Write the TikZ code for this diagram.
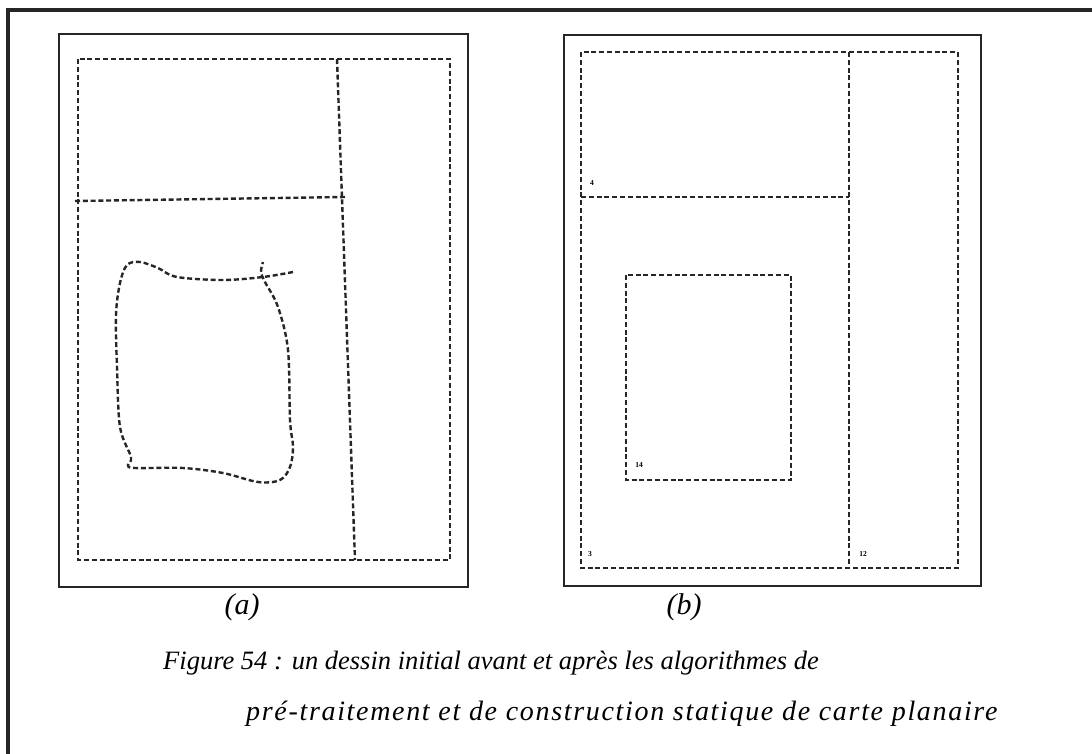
\documentclass[tikz,border=0pt]{standalone}
\usepackage{fontspec}
\setmainfont{Liberation Serif}
\begin{document}
\begin{tikzpicture}[x=1pt,y=-1pt,
  frameline/.style={line width=3.2pt, black!85},
  panelframe/.style={line width=2.8pt, black!85},
  dashline/.style={line width=2.4pt, dash pattern=on 5pt off 2.8pt, black!85},
  tinylabel/.style={font=\fontsize{7.5}{8}\selectfont\bfseries, inner sep=0pt},
  sublabel/.style={font=\fontsize{30}{34}\selectfont\itshape, inner sep=0pt, anchor=base},
  caption/.style={font=\fontsize{26.5}{32}\selectfont\itshape, inner sep=0pt, anchor=base west}]
\useasboundingbox (0,0) rectangle (1092,753);
\fill[white] (0,0) rectangle (1092,753);
% outer frame (cut by the page)
\draw[frameline] (8,770) -- (8,10) -- (1110,10);
% ---------- panel (a)
\draw[panelframe] (59,34) rectangle (468,587);
\draw[dashline] (78,59) rectangle (450,560);
\coordinate (aT) at (337,59);
\coordinate (aB) at (355,560);
\draw[dashline] (aT) -- (aB);
\coordinate (aL) at (75,201);
\coordinate (aR) at (345,197);
\draw[dashline] (aL) -- (aR);
\draw[dashline] plot[smooth, tension=0.55] coordinates {
 (293,272) (263,277) (223,280) (177,277) (158,268) (140,262) (127,265)
 (120,283) (116,315) (117,367) (120,427) (131,457) (128,465) (135,468)
 (183,468) (223,473) (258,482) (280,480) (290,467) (293,447) (290,420)
 (288,350) (278,307) (265,282) (261,272) (263,262)};
\node[sublabel] (la) at (242,614) {(a)};
% ---------- panel (b)
\draw[panelframe] (564,35) rectangle (981,586);
\draw[dashline] (581,52) rectangle (958,568);
\coordinate (bT) at (849,52);
\coordinate (bB) at (849,568);
\draw[dashline] (bT) -- (bB);
\coordinate (bL) at (581,197);
\coordinate (bR) at (849,197);
\draw[dashline] (bL) -- (bR);
\draw[dashline] (626,275) rectangle (791,480);
\node[tinylabel] (n4) at (592,183) {4};
\node[tinylabel] (n3) at (590,554) {3};
\node[tinylabel] (n12) at (863,554) {12};
\node[tinylabel] (n14) at (639,465) {14};
\node[sublabel] (lb) at (684,614) {(b)};
% ---------- caption
\node[caption] (c1) at (163,669) {Figure 54 : un dessin initial avant et après les algorithmes de};
\node[caption] (c2) at (246,720) {\fontsize{28}{32}\selectfont\addfontfeature{LetterSpace=6}pré-traitement et de construction statique de carte planaire};
\end{tikzpicture}
\end{document}
